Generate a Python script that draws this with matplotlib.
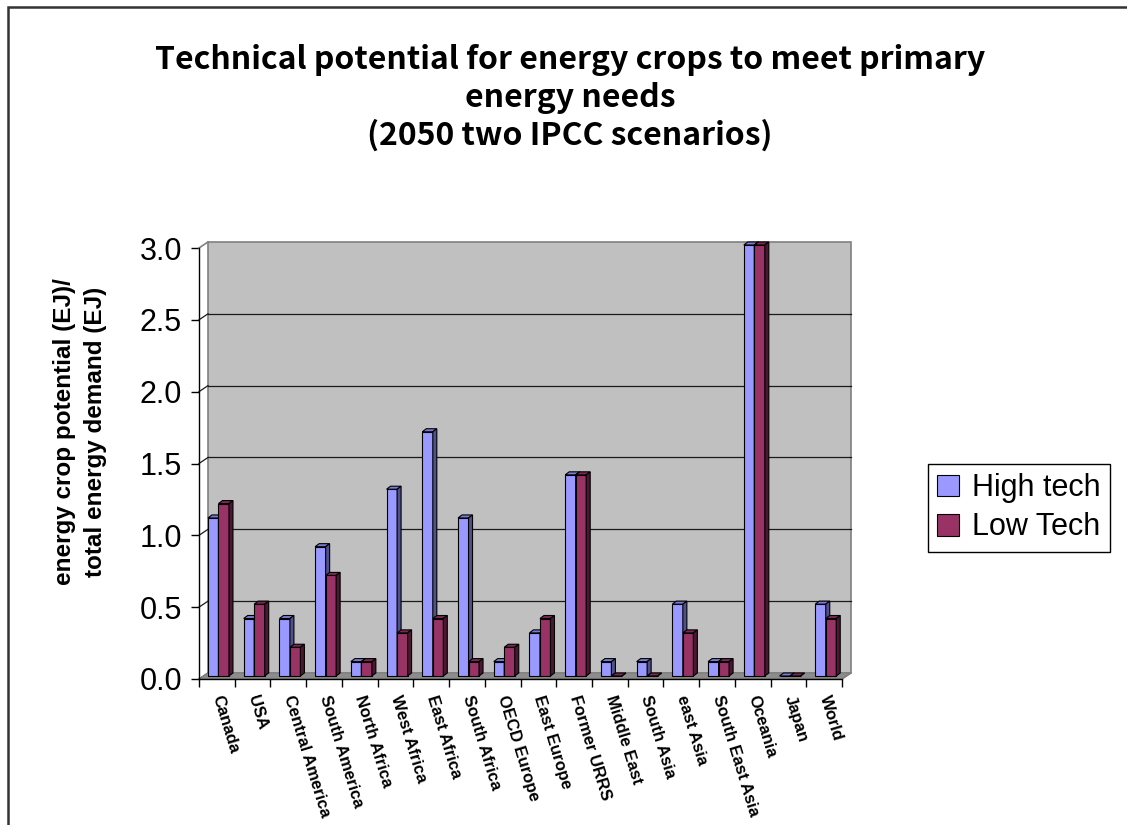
import numpy as np
import matplotlib
matplotlib.use('Agg')
import matplotlib.pyplot as plt
from matplotlib.patches import Polygon, Rectangle, Patch

plt.rcParams['font.family'] = ['Liberation Sans', 'DejaVu Sans']

regions = ['Canada', 'USA', 'Central America', 'South America', 'North Africa',
           'West Africa', 'East Africa', 'South Africa', 'OECD Europe', 'East Europe',
           'Former URRS', 'Middle East', 'South Asia', 'east Asia', 'South East Asia',
           'Oceania', 'Japan', 'World']
high_tech = [1.1, 0.4, 0.4, 0.9, 0.1, 1.3, 1.7, 1.1, 0.1, 0.3,
             1.4, 0.1, 0.1, 0.5, 0.1, 3.0, 0.0, 0.5]
low_tech = [1.2, 0.5, 0.2, 0.7, 0.1, 0.3, 0.4, 0.1, 0.2, 0.4,
            1.4, 0.0, 0.0, 0.3, 0.1, 3.0, 0.0, 0.4]
y_ticks = [0.0, 0.5, 1.0, 1.5, 2.0, 2.5, 3.0]
series_names = ['High tech', 'Low Tech']

W, H = 1127, 825
n = len(regions)

# fake 3-D geometry (in data units): wall depth, bar depth, bar width
dxw, dyw = 0.252, 0.042
dxd, dyd = 0.112, 0.021
bw = 0.294
c_off = 0.545

blue = ('#9999FF', '#7b7bd6', '#50508a')
maroon = ('#993366', '#7a2952', '#4a1830')

fig = plt.figure(figsize=(W / 100, H / 100), dpi=100)
ax = fig.add_axes([199 / W, (H - 679) / H, 643 / W, 431 / H])
ax.set_facecolor('none')
ax.set_xlim(0, n)
ax.set_ylim(0, 3)

# back wall and gridlines
ax.add_patch(Rectangle((dxw, dyw), n, 3, fc='#c0c0c0', ec='#808080', lw=1.2,
                       zorder=1, clip_on=False))
for y in y_ticks[1:-1]:
    ax.plot([dxw, n + dxw], [y + dyw, y + dyw], color='#1a1a1a', lw=0.9,
            zorder=2, clip_on=False)
# side wall edges
for y in y_ticks[:-1]:
    ax.plot([0, dxw], [y, y + dyw], color='#1a1a1a', lw=0.9, zorder=2, clip_on=False)
ax.plot([0, dxw], [3, 3 + dyw], color='#808080', lw=1.2, zorder=2, clip_on=False)
# floor
ax.add_patch(Polygon([(0, 0), (n, 0), (n + dxw, dyw), (dxw, dyw)], closed=True,
                     fc='#8c8c8c', ec='#808080', lw=1.0, zorder=2, clip_on=False))


def draw_bar(x0, h, colors):
    front, top, side = colors
    yb, yt = dyw / 2, dyw / 2 + h
    x1 = x0 + bw
    ax.bar(x0, h, width=bw, bottom=yb, align='edge', color=front,
           edgecolor='black', lw=0.8, zorder=3, clip_on=False)
    ax.add_patch(Polygon([(x0, yt), (x1, yt), (x1 + dxd, yt + dyd), (x0 + dxd, yt + dyd)],
                         closed=True, fc=top, ec='black', lw=0.8, zorder=3, clip_on=False))
    ax.add_patch(Polygon([(x1, yb), (x1 + dxd, yb + dyd), (x1 + dxd, yt + dyd), (x1, yt)],
                         closed=True, fc=side, ec='black', lw=0.8, zorder=3, clip_on=False))


x = np.arange(n) + c_off
for i in range(n):
    draw_bar(x[i] - bw, high_tech[i], blue)
    draw_bar(x[i], low_tech[i], maroon)

# axes lines
for s in ['top', 'right']:
    ax.spines[s].set_visible(False)
ax.spines['left'].set_color('black')
ax.spines['bottom'].set_color('black')
ax.spines['left'].set_linewidth(1.0)
ax.spines['bottom'].set_linewidth(1.0)
ax.plot([n, n + dxw], [0, dyw], color='#808080', lw=1.0, zorder=2, clip_on=False)

ax.set_yticks(y_ticks)
ax.set_yticklabels([f'{v:.1f}' for v in y_ticks])
ax.tick_params(axis='y', length=5.8, width=1.0, pad=6.5, labelsize=22)

ax.set_xticks(np.arange(n + 1), minor=True)
ax.set_xticks(np.arange(n) + 0.5)
ax.set_xticklabels(regions)
ax.tick_params(axis='x', which='minor', length=5.8, width=1.0, direction='out')
ax.tick_params(axis='x', which='major', length=0, pad=12)
plt.setp(ax.get_xticklabels(), rotation=-73, ha='left', va='center',
         rotation_mode='anchor', fontsize=12, fontweight='bold')

fig.text(80 / W, 1 - 432 / H,
         'energy crop potential (EJ)/\ntotal energy demand (EJ)',
         rotation=90, ha='center', va='center', fontsize=17.5,
         fontweight='bold', linespacing=1.4)

# title
title_lines = ['Technical potential for energy crops to meet primary',
               'energy needs',
               '(2050 two IPCC scenarios)']
for line, yb in zip(title_lines, [69, 107, 145]):
    fig.text(570 / W, 1 - yb / H, line, ha='center', va='baseline',
             fontsize=23, fontweight='bold', family='Noto Sans CJK JP')

handles = [Patch(fc=blue[0], ec='black', lw=0.8, label=series_names[0]),
           Patch(fc=maroon[0], ec='black', lw=0.8, label=series_names[1])]
leg = fig.legend(handles=handles, loc='upper left',
                 bbox_to_anchor=(928 / W, 1 - 464 / H), borderaxespad=0,
                 frameon=True, fancybox=False, edgecolor='black', framealpha=1,
                 prop={'size': 22}, handlelength=0.72, handleheight=0.72,
                 handletextpad=0.43, borderpad=0.3, labelspacing=0.3)
leg.get_frame().set_linewidth(1.0)

# outer chart border
fig.add_artist(Rectangle((7.5 / W, -0.1), 1.2, 1.1 - 7.5 / H, transform=fig.transFigure,
                         fill=False, ec='#333333', lw=1.8))

fig.savefig('out.png', dpi=100)
